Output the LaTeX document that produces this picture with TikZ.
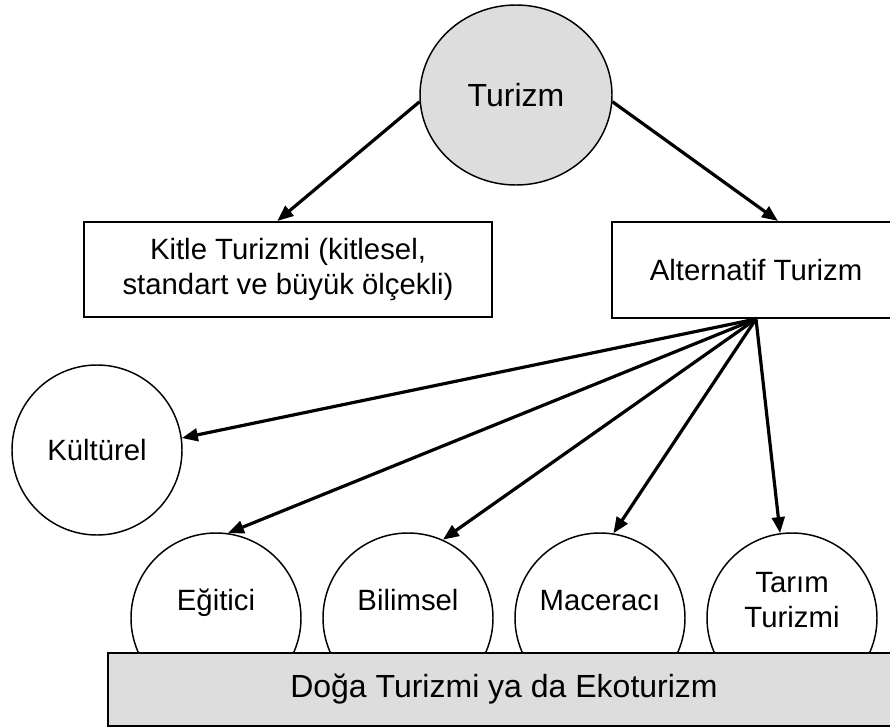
\documentclass[tikz,border=0pt]{standalone}
\usepackage{fontspec}
\setmainfont{Liberation Sans}
\usetikzlibrary{arrows.meta,shapes.geometric}
\definecolor{gri}{RGB}{221,221,221}
\tikzset{every picture/.style={line width=0.75pt}}
\tikzset{
  yazi/.style={font=\fontsize{22}{26.5}\selectfont},
  buyukyazi/.style={font=\fontsize{24}{28}\selectfont},
  kutu/.style={draw, line width=1.5pt, inner sep=0pt, align=center, yazi},
  daire/.style={draw, circle, line width=1.1pt, minimum size=127.5pt, inner sep=0pt, fill=white, yazi},
  ok/.style={line width=2.4pt, -{Triangle[length=12pt,width=9.5pt]}},
}

\begin{document}
\begin{tikzpicture}[x=0.75pt,y=0.75pt,yscale=-1,xscale=1]
\useasboundingbox (0,0) rectangle (890,728);

%Shape: Ellipse
\node [ellipse, draw, fill=gri, line width=1.1pt, minimum width=144pt, minimum height=135pt, inner sep=0pt, buyukyazi] (turizm) at (516,95) {Turizm};
%Shape: Rectangle
\node [kutu, minimum width=306pt, minimum height=71.25pt] (kitle) at (288,269.5) {Kitle Turizmi (kitlesel,\\standart ve büyük ölçekli)};
%Shape: Rectangle
\node [kutu, minimum width=216pt, minimum height=72pt] (alternatif) at (756,270) {Alternatif Turizm};

%Shape: Circle
\node [daire] (kulturel) at (97,450) {Kültürel};
%Shape: Circle
\node [daire] (egitici) at (216,618) {};
%Shape: Circle
\node [daire] (bilimsel) at (408,618) {};
%Shape: Circle
\node [daire] (maceraci) at (600,618) {};
%Shape: Circle
\node [daire] (tarim) at (792,618) {};

%Shape: Rectangle
\node [kutu, buyukyazi, fill=gri, minimum width=594pt, minimum height=54.75pt] (doga) at (504,689) {Doğa Turizmi ya da Ekoturizm};

% Text Node
\node [yazi, anchor=base] (egiticiyazi) at (216,610) {Eğitici};
% Text Node
\node [yazi, anchor=base] (bilimselyazi) at (408,610) {Bilimsel};
% Text Node
\node [yazi, anchor=base] (maceraciyazi) at (600,610) {Maceracı};
% Text Node
\node [yazi, align=center] (tarimyazi) at (792,600) {Tarım\\Turizmi};

%Straight Lines
\draw [ok] (turizm.184) -- ([xshift=-8pt]kitle.north);
\draw [ok] (turizm.-4) -- ([xshift=16.5pt]alternatif.north);
\draw [ok] (alternatif.south) -- (kulturel.8);
\draw [ok] (alternatif.south) -- (egitici.82);
\draw [ok] (alternatif.south) -- (bilimsel.66);
\draw [ok] (alternatif.south) -- (maceraci.81);
\draw [ok] (alternatif.south) -- (tarim.98);

\end{tikzpicture}
\end{document}
